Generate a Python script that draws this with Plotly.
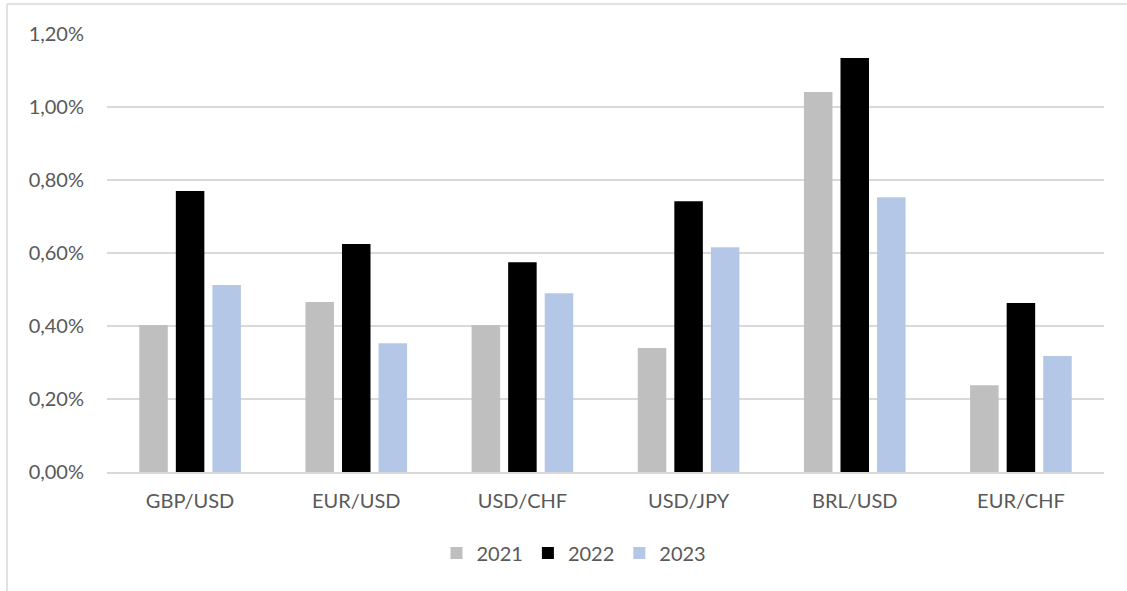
import plotly.graph_objects as go

categories = ["GBP/USD", "EUR/USD", "USD/CHF", "USD/JPY", "BRL/USD", "EUR/CHF"]
v2021 = [0.00403, 0.00466, 0.00403, 0.00340, 0.01041, 0.00238]
v2022 = [0.00770, 0.00625, 0.00575, 0.00742, 0.01134, 0.00463]
v2023 = [0.00512, 0.00353, 0.00490, 0.00616, 0.00753, 0.00318]
tick_vals = [0, 0.002, 0.004, 0.006, 0.008, 0.010, 0.012]

font_family = "Lato, Calibri, Carlito, sans-serif"
text_color = "#595959"
fs = 20

fig = go.Figure()
fig.add_trace(go.Bar(name="2021", x=categories, y=v2021, marker_color="#BFBFBF", marker_line_width=0))
fig.add_trace(go.Bar(name="2022", x=categories, y=v2022, marker_color="#000000", marker_line_width=0))
fig.add_trace(go.Bar(name="2023", x=categories, y=v2023, marker_color="#B4C7E7", marker_line_width=0))

L, R, T, B = 107, 23, 34, 119
W, H = 1127, 591
pw, ph = W - L - R, H - T - B

def px(x):
    return (x - L) / pw

def py(y):
    return (H - B - y) / ph

fig.update_layout(
    width=W, height=H,
    margin=dict(l=L, r=R, t=T, b=B, autoexpand=False),
    paper_bgcolor="white", plot_bgcolor="white",
    separators=",.",
    barmode="group", bargap=0.34, bargroupgap=0.22,
    font=dict(family=font_family, size=fs, color=text_color),
    showlegend=True,
    legend=dict(orientation="h", x=px(574), xanchor="center", y=py(553), yanchor="middle",
                font=dict(size=fs, color=text_color), itemwidth=30, traceorder="normal"),
    xaxis=dict(showgrid=False, showline=True, linecolor="#D9D9D9", linewidth=1.5,
               ticks="", tickfont=dict(size=fs, color=text_color), ticklabelstandoff=10),
    yaxis=dict(range=[0, 0.012], tickvals=tick_vals, tickformat=".2%",
               showgrid=True, gridcolor="#D9D9D9", gridwidth=1.5, zeroline=False,
               showline=False, ticks="", tickfont=dict(size=fs, color=text_color),
               ticklabelstandoff=22),
    shapes=[
        dict(type="line", xref="paper", yref="paper", x0=px(7), x1=px(7), y0=py(4), y1=py(H + 5),
             line=dict(color="#D9D9D9", width=1.5)),
        dict(type="line", xref="paper", yref="paper", x0=px(7), x1=px(W + 5), y0=py(4), y1=py(4),
             line=dict(color="#D9D9D9", width=1.5)),
    ],
)

fig.write_html("out.html")
